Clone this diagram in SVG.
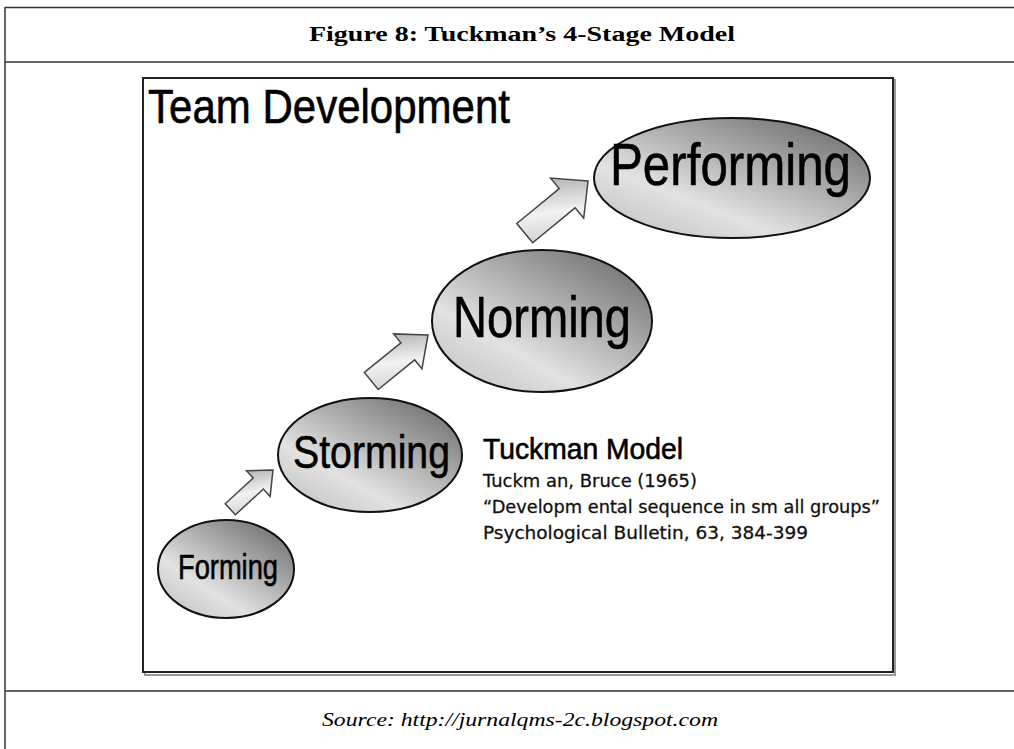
<svg xmlns="http://www.w3.org/2000/svg" width="1014" height="749" viewBox="0 0 1014 749">
<defs>
<linearGradient id="eg" x1="0.1" y1="0.95" x2="0.9" y2="0.05">
<stop offset="0" stop-color="#c4c4c4"/>
<stop offset="0.3" stop-color="#e2e2e2"/>
<stop offset="1" stop-color="#6e6e6e"/>
</linearGradient>
<linearGradient id="ag" x1="0" y1="1" x2="1" y2="0">
<stop offset="0" stop-color="#c8c8c8"/>
<stop offset="0.45" stop-color="#f2f2f2"/>
<stop offset="1" stop-color="#9a9a9a"/>
</linearGradient>
<style>
.frame{fill:none;stroke:#333;stroke-width:1.5}
.node ellipse{fill:url(#eg);stroke:#111;stroke-width:2}
.lbl{font-family:"Liberation Sans",Arial,sans-serif;fill:#000;stroke:#000;stroke-width:0.6}
.arrow{fill:url(#ag);stroke:#444;stroke-width:1.5;stroke-linejoin:miter}
.ref{font-family:"DejaVu Sans",Verdana,sans-serif;font-size:18px;fill:#111;stroke:#111;stroke-width:0.3}
</style>
</defs>
<rect width="1014" height="749" fill="#fff"/>
<g id="table">
<line class="frame" x1="5" y1="7.5" x2="1014" y2="7.5"/>
<line class="frame" x1="5" y1="7" x2="5" y2="749"/>
<line class="frame" x1="5" y1="62" x2="1014" y2="62"/>
<line class="frame" x1="5" y1="691" x2="1014" y2="691"/>
<text x="522" y="41" text-anchor="middle" font-family="'Liberation Serif','Times New Roman',serif" font-weight="bold" font-size="20" textLength="426" lengthAdjust="spacingAndGlyphs">Figure  8:  Tuckman’s  4-Stage  Model</text>
<text x="520" y="726" text-anchor="middle" font-family="'Liberation Serif','Times New Roman',serif" font-style="italic" font-size="19" textLength="396" lengthAdjust="spacingAndGlyphs">Source:   http://jurnalqms-2c.blogspot.com</text>
</g>
<g id="picture">
<rect x="145" y="80" width="750" height="595" fill="none" stroke="#999" stroke-width="2"/>
<rect x="143" y="78" width="750" height="594" fill="#fff" stroke="#222" stroke-width="2"/>
<text class="lbl" x="148" y="123" font-size="48" textLength="362" lengthAdjust="spacingAndGlyphs">Team Development</text>
</g>
<g id="connectors">
<path class="arrow" transform="translate(273,470) rotate(-42.6)" d="M0,0 L-20,-17.5 L-20,-7.5 L-58,-7.5 L-58,7.5 L-20,7.5 L-20,17.5 Z"/>
<path class="arrow" transform="translate(428,335) rotate(-39)" d="M0,0 L-26,-22.5 L-26,-11 L-73,-11 L-73,11 L-26,11 L-26,22.5 Z"/>
<path class="arrow" transform="translate(588,181) rotate(-39.5)" d="M0,0 L-27,-26 L-27,-12.5 L-82,-12.5 L-82,12.5 L-27,12.5 L-27,26 Z"/>
</g>
<g id="forming" class="node">
<ellipse cx="226" cy="569" rx="68" ry="49"/>
<text class="lbl" x="178" y="579" font-size="35" textLength="100" lengthAdjust="spacingAndGlyphs">Forming</text>
</g>
<g id="storming" class="node">
<ellipse cx="370" cy="455" rx="92" ry="57"/>
<text class="lbl" x="293" y="468" font-size="46" textLength="157" lengthAdjust="spacingAndGlyphs">Storming</text>
</g>
<g id="norming" class="node">
<ellipse cx="542" cy="321" rx="110" ry="71"/>
<text class="lbl" x="453" y="337" font-size="57" textLength="178" lengthAdjust="spacingAndGlyphs">Norming</text>
</g>
<g id="performing" class="node">
<ellipse cx="732" cy="178" rx="138" ry="60"/>
<text class="lbl" x="610" y="185" font-size="59" textLength="241" lengthAdjust="spacingAndGlyphs">Performing</text>
</g>
<g id="reference">
<text class="lbl" x="483" y="459" font-size="29" textLength="200" lengthAdjust="spacingAndGlyphs">Tuckman Model</text>
<text class="ref" x="483" y="487" textLength="214" lengthAdjust="spacingAndGlyphs">Tuckm an, Bruce (1965)</text>
<text class="ref" x="483" y="513" textLength="397" lengthAdjust="spacingAndGlyphs">“Developm ental sequence in sm all groups”</text>
<text class="ref" x="483" y="539" textLength="325" lengthAdjust="spacingAndGlyphs">Psychological Bulletin, 63, 384-399</text>
</g>
</svg>
